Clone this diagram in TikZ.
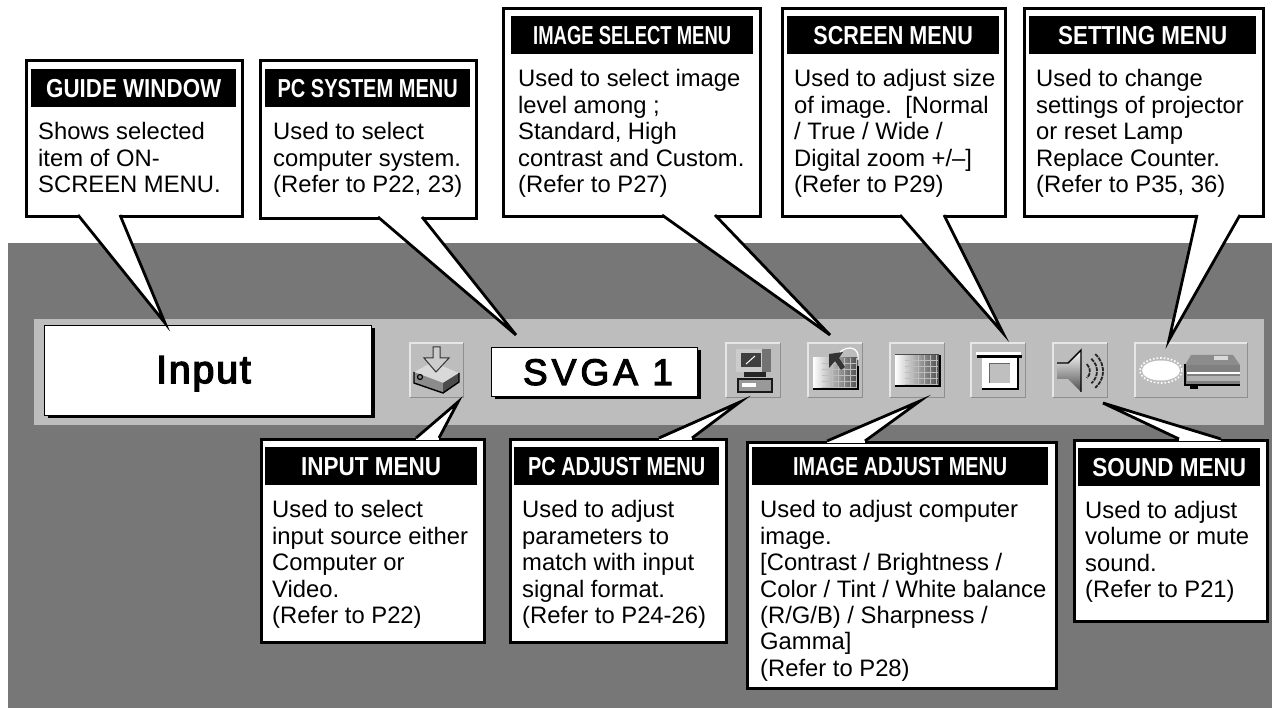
\documentclass[tikz,border=0pt]{standalone}
\usepackage{fontspec}
\usepackage{graphicx}
\setmainfont{Liberation Sans}
\usetikzlibrary{shadows}
\definecolor{backgray}{HTML}{777777}
\definecolor{bargray}{HTML}{BDBDBD}
\definecolor{btnlight}{HTML}{E6E6E6}
\definecolor{btndark}{HTML}{8E8E8E}
\tikzset{
  menubox/.style={draw=black,fill=white,line width=2.8pt,inner sep=0pt,anchor=north west},
  menuhead/.style={fill=black,text=white,inner sep=0pt,anchor=north west,
    font=\fontsize{26}{26}\selectfont\bfseries},
  menutext/.style={inner sep=0pt,anchor=north west,align=left,
    font=\fontsize{23.8}{26.4}\selectfont,execute at begin node=\strut},
  tailline/.style={draw=black,line width=2.8pt},
  osdbox/.style={draw=black,fill=white,line width=1.6pt,inner sep=0pt,
    drop shadow={shadow xshift=3pt,shadow yshift=-3pt,fill=black,opacity=1}},
  osdtext/.style={inner sep=0pt,anchor=base},
  btnbox/.style={fill=bargray,inner sep=0pt,anchor=north west,minimum height=54pt}
}
\begin{document}
\begin{tikzpicture}[x=1pt,y=-1pt]
  \useasboundingbox (0,0) rectangle (1272,708);
  \fill[backgray] (8,243) rectangle (1272,708);
  \fill[bargray] (34,319) rectangle (1264,425);

  % boxes in the bar
  \node (inputbox) [osdbox,minimum width=327pt,minimum height=90pt] at (208,370.5) {};
  \node (inputlabel) [osdtext] at (203.5,383)
     {\addfontfeature{LetterSpace=5,FakeBold=4}\fontsize{39}{39}\selectfont Input};
  \node (svgabox) [osdbox,minimum width=206pt,minimum height=49pt] at (594.5,372) {};
  \node (svgalabel) [osdtext] at (598,385)
     {\addfontfeature{LetterSpace=11,FakeBold=3}\fontsize{37}{37}\selectfont SVGA 1};

  % buttons
  \foreach \name/\xa/\bw in {inputbtn/410/53,pcbtn/726/54,selectbtn/808/54,
     adjustbtn/890/54,screenbtn/971/54,soundbtn/1053/54,settingbtn/1135/112}
  {
      \node (\name) [btnbox,minimum width=\bw pt] at (\xa,343) {};
      \draw[btndark,line width=1.6pt] (\name.north east)--(\name.south east)--(\name.south west);
      \draw[btnlight,line width=1.6pt] (\name.south west)--(\name.north west)--(\name.north east);
  }

  % input icon
  \fill[white!85!black] (414,372)--(433,362)--(459,373)--(443,383)--cycle;
  \fill[black!45] (414,372)--(443,383)--(443,393)--(414,383)--cycle;
  \fill[black!70] (443,383)--(459,373)--(459,382)--(443,393)--cycle;
  \draw[black,line width=1.4pt] (414,372)--(414,383)--(443,393)--(459,382)--(459,373);
  \fill[white!80!black,draw=black!80,line width=1pt] (433,347)--(440,347)--(440,358)--(449,358)--(436,372)--(424,358)--(433,358)--cycle;
  \draw[black,line width=1.2pt] (420,377) circle (2.5);

  % computer icon
  \fill[black!55] (736,349) rectangle (771,372);
  \fill[white!80!black] (736,349) rectangle (762,372);
  \fill[black!75] (741,353) rectangle (761,367);
  \draw[white,line width=1pt] (746,364)--(755,356);
  \fill[black!85] (744,372) rectangle (766,377);
  \fill[black!40,draw=black!90,line width=1.4pt] (738,379) rectangle (772,392);
  \fill[white] (742,383) rectangle (756,387);

  % image select icon
  \shade[left color=white,right color=black!70] (813,358) rectangle (858,390);
  \foreach \x in {832,838,...,856}
  {
      \draw[bargray,line width=1pt] (\x,358)--(\x,388);
  }
  \foreach \y in {364,370,...,388}
  {
      \draw[bargray,line width=1pt] (822,\y)--(857,\y);
  }
  \draw[black,line width=2pt] (813,389)--(858,389)--(858,366);
  \fill[black!80] (829,354)--(843,352)--(839,358)--(845,367)--(841,370)--(835,361)--(829,368)--cycle;
  \draw[white,line width=1.2pt] (840,352) .. controls (848,345) and (860,347) .. (858,360);

  % image adjust icon
  \shade[left color=white,right color=black!70] (895,355) rectangle (939,386);
  \foreach \x in {912,918,...,936}
  {
      \draw[bargray,line width=1pt] (\x,355)--(\x,385);
  }
  \foreach \y in {361,367,...,385}
  {
      \draw[bargray,line width=1pt] (905,\y)--(938,\y);
  }
  \draw[black!70,line width=1pt] (895,355)--(939,355);
  \draw[black,line width=2pt] (895,386)--(940,386)--(940,355);

  % screen icon
  \fill[white] (982,357) rectangle (1017,388);
  \draw[black,line width=2pt] (982,389)--(1018,389)--(1018,358);
  \fill[black!25] (989,364) rectangle (1010,383);
  \draw[black!60,line width=1pt] (989,383)--(989,364)--(1010,364);
  \fill[white] (976,352) rectangle (1021,355);
  \fill[black] (977,355) rectangle (1022,358);

  % sound icon
  \shade[top color=white,bottom color=black!70] (1057,363)--(1068,363)--(1081,350)--(1081,392)--(1068,379)--(1057,379)--cycle;
  \draw[black,line width=1.4pt] (1057,363)--(1068,363)--(1081,350)--(1081,392);
  \foreach \rad in {9,16,22}
  {
      \draw[black!85,line width=1.8pt,dash pattern=on 4pt off 1pt] (1081,371) ++(-50:\rad) arc[start angle=-50,end angle=50,radius=\rad];
  }

  % setting icon
  \fill[white] (1161,370.5) ellipse (19 and 10);
  \draw[white,dotted,line width=1.6pt] (1161,370.5) ellipse (21 and 12.5);
  \fill[black!45] (1191,355)--(1233,355)--(1240,365)--(1185,365)--cycle;
  \fill[white!85!black] (1214,356) rectangle (1228,360);
  \fill[black!50] (1185,365) rectangle (1240,385);
  \fill[white] (1187,372) rectangle (1240,374);
  \fill[black!30] (1187,376) rectangle (1240,381);
  \draw[black,line width=1.6pt] (1185,364)--(1185,385)--(1240,385);
  \fill[black] (1190,385) rectangle (1198,389);

  % frames and tails of the menus
  \foreach \name/\xa/\ya/\xb/\yb/\ta/\tb/\ty/\px/\py in {
      guide/25/59/241/215/78/120/215/165/323,
      system/259/59/475/217/378/422/217/516/335,
      select/502/7/759/215/662/715/215/830/335,
      screen/781/7/1004/215/900/944/215/1003/333,
      setting/1023/7/1262/215/1197/1240/215/1169/340,
      input/260/438/483/641/416/439/438/458/402,
      adjust/509/438/725/641/659/692/438/740/402,
      image/746/441/1055/687/827/865/441/920/401,
      sound/1073/439/1266/620/1179/1221/439/1103/403}
  {
      \node (\name box) [menubox,minimum width={\xb-\xa},minimum height={\yb-\ya}] at (\xa,\ya) {};
      \coordinate (\name tail1) at (\ta,\ty);
      \coordinate (\name tail2) at (\tb,\ty);
      \coordinate (\name tip) at (\px,\py);
      \fill[white] (\name tail1)--(\name tip)--(\name tail2)--cycle;
      \draw[white,line width=3.6pt] (\name tail1)--(\name tail2);
      \draw[tailline] (\name tail1)--(\name tip)--(\name tail2);
  }

  % titles
  \foreach \name/\xa/\ya/\xb/\sx/\label in {
      guide/31/69/236/.86/GUIDE WINDOW,
      system/265/69/470/.77/PC SYSTEM MENU,
      select/511/16/753/.71/IMAGE SELECT MENU,
      screen/787/16/999/.83/SCREEN MENU,
      setting/1029/16/1256/.86/SETTING MENU,
      input/265/447/477/.865/INPUT MENU,
      adjust/514/447/719/.766/PC ADJUST MENU,
      image/752/447/1048/.764/IMAGE ADJUST MENU,
      sound/1078/448/1260/.866/SOUND MENU}
  {
      \node (\name head) [menuhead,minimum width={\xb-\xa},minimum height=38pt] at (\xa,\ya) {\scalebox{\sx}[1]{\label}};
  }

  % texts
  \node (guidetext) [menutext] at (38,122.5) {Shows selected\\item of ON-\\SCREEN MENU.};
  \node (systemtext) [menutext] at (273,122.5) {Used to select\\computer system.\\(Refer to P22, 23)};
  \node (selecttext) [menutext] at (518,69.5) {Used to select image\\level among ;\\Standard, High\\contrast and Custom.\\(Refer to P27)};
  \node (screentext) [menutext] at (794,69.5) {Used to adjust size\\of image.\ \ [Normal\\/ True / Wide /\\Digital zoom +/--]\\(Refer to P29)};
  \node (settingtext) [menutext] at (1036,69.5) {Used to change\\settings of projector\\or reset Lamp\\Replace Counter.\\(Refer to P35, 36)};
  \node (inputtext) [menutext] at (272,500.5) {Used to select\\input source either\\Computer or\\Video.\\(Refer to P22)};
  \node (adjusttext) [menutext] at (522,500.5) {Used to adjust\\parameters to\\match with input\\signal format.\\(Refer to P24-26)};
  \node (imagetext) [menutext] at (760,500.5) {Used to adjust computer\\image.\\{[}Contrast / Brightness /\\Color / Tint / White balance\\(R/G/B) / Sharpness /\\Gamma]\\(Refer to P28)};
  \node (soundtext) [menutext] at (1085,501) {Used to adjust\\volume or mute\\sound.\\(Refer to P21)};
\end{tikzpicture}
\end{document}
